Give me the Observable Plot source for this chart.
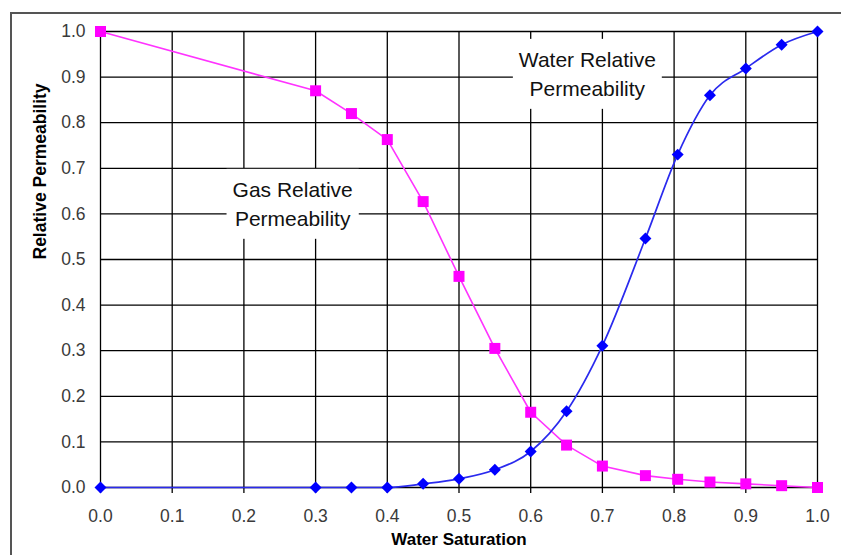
<!DOCTYPE html>
<html><head><meta charset="utf-8">
<script src="https://cdn.jsdelivr.net/npm/d3@7"></script>
<script src="https://cdn.jsdelivr.net/npm/@observablehq/plot@0.6"></script>
<style>
body{margin:0;background:#fff}
svg{font-family:"Liberation Sans",Arial,sans-serif}
</style>
</head><body><div id="chart"></div>
<script>
const saturation = [0, 0.3, 0.35, 0.4, 0.45, 0.5, 0.55, 0.6, 0.65, 0.7, 0.76, 0.805, 0.85, 0.9, 0.95, 1.0];
const gasKr      = [1.0, 0.87, 0.82, 0.763, 0.627, 0.463, 0.305, 0.165, 0.093, 0.047, 0.026, 0.018, 0.012, 0.008, 0.004, 0.0];
const waterKr    = [0, 0, 0, 0, 0.008, 0.019, 0.039, 0.079, 0.167, 0.311, 0.546, 0.73, 0.86, 0.919, 0.971, 1.0];
const tickValues = [0, 0.1, 0.2, 0.3, 0.4, 0.5, 0.6, 0.7, 0.8, 0.9, 1.0];
const annotations = [
  {x: 0.679, y: 0.911, text: "Water Relative\nPermeability"},
  {x: 0.268, y: 0.626, text: "Gas Relative\nPermeability"}
];
const xLabel = "Water Saturation";
const yLabel = "Relative Permeability";

const gas = saturation.map((s, i) => ({s, kr: gasKr[i]}));
const water = saturation.map((s, i) => ({s, kr: waterKr[i]}));
const fmt = d3.format(".1f");

const plot = Plot.plot({
  width: 841, height: 555,
  marginLeft: 100, marginRight: 24, marginTop: 31, marginBottom: 68,
  style: {fontFamily: '"Liberation Sans", Arial, sans-serif', fontSize: "17.5px", color: "#333", background: "#fff"},
  x: {domain: [0, 1]},
  y: {domain: [0, 1]},
  marks: [
    Plot.gridX(tickValues, {stroke: "#000", strokeOpacity: 1, strokeWidth: 1.3}),
    Plot.gridY(tickValues, {stroke: "#000", strokeOpacity: 1, strokeWidth: 1.3}),
    Plot.axisX(tickValues, {tickSize: 6, tickPadding: 16, tickFormat: fmt, stroke: "#000", strokeWidth: 1.3, fill: "#3a3a3a", label: null}),
    Plot.axisY(tickValues, {tickSize: 0, tickPadding: 15, tickFormat: fmt, fill: "#3a3a3a", label: null}),
    Plot.text(annotations, {x: "x", y: "y", text: "text", fontSize: 21, fill: "#111", lineHeight: 1.38}),
    Plot.line(gas, {x: "s", y: "kr", stroke: "#ff33ff", strokeWidth: 1.6}),
    Plot.dot(gas, {x: "s", y: "kr", symbol: "square", r: 6.2, fill: "#ff00ff", stroke: "none"}),
    Plot.line(water, {x: "s", y: "kr", stroke: "#2a2aee", strokeWidth: 1.7, curve: "monotone-x"}),
    Plot.dot(water, {x: "s", y: "kr", symbol: "diamond2", r: 5.4, fill: "#0000ff", stroke: "none"}),
    Plot.text([xLabel], {text: d => d, frameAnchor: "bottom", dy: 57, fontWeight: "bold", fontSize: 17, fill: "#000"}),
    Plot.text([yLabel], {text: d => d, frameAnchor: "left", dx: -60, rotate: -90, fontWeight: "bold", fontSize: 17.5, fill: "#000"})
  ]
});
document.getElementById("chart").append(plot);

// white boxes behind the two multi-line annotation labels
d3.select(plot).selectAll("text").each(function() {
  if (!this.querySelector("tspan")) return;
  const b = this.getBBox();
  const px = 6, py = 9;
  const r = document.createElementNS("http://www.w3.org/2000/svg", "rect");
  r.setAttribute("x", b.x - px);
  r.setAttribute("y", b.y - py);
  r.setAttribute("width", b.width + 2 * px);
  r.setAttribute("height", b.height + 2 * py);
  r.setAttribute("fill", "#fff");
  const tr = this.getAttribute("transform");
  if (tr) r.setAttribute("transform", tr);
  this.parentNode.insertBefore(r, this);
});

// outer frame of the picture
d3.select(plot).append("rect")
  .attr("x", 11).attr("y", 13).attr("width", 900).attr("height", 600)
  .attr("fill", "none").attr("stroke", "#555").attr("stroke-width", 2);
</script>
</body></html>
